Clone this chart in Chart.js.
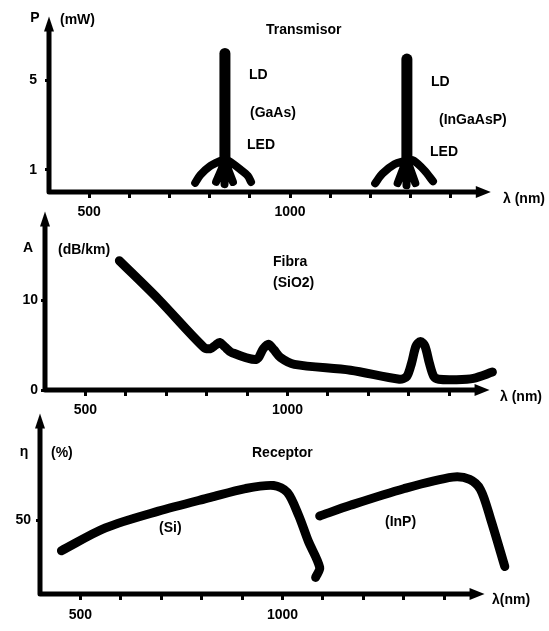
<!DOCTYPE html>
<html>
<head>
<meta charset="utf-8">
<script src="https://cdn.jsdelivr.net/npm/chart.js@4.4.1/dist/chart.umd.min.js"></script>
<style>
  html, body { margin: 0; padding: 0; background: #fff; }
  #wrap { position: relative; width: 549px; height: 631px; overflow: hidden; }
  canvas { position: absolute; left: 0; }
</style>
</head>
<body>
<div id="wrap">
  <canvas id="transmisor" width="549" height="232" style="top:0px"></canvas>
  <canvas id="fibra" width="549" height="230" style="top:200px"></canvas>
  <canvas id="receptor" width="549" height="231" style="top:400px"></canvas>
</div>
<script>
// eje x comun (nm)
const xTicks = [500, 600, 700, 800, 900, 1000, 1100, 1200, 1300, 1400];
const xLabels = [500, 1000];

// Transmisor: P (mW)
const pTicks = [1, 5];
// LD = tronco, LED = raices (null corta el trazo)
const gaasLdNm = [838, 838];
const gaasLdP = [1.3, 6.2];
const gaasLedNm = [836, 825, 799, 777, 764, null, 834, 816, null, 838, 837, null, 842, 858, null, 841, 851, 877, 895, 903];
const gaasLedP  = [1.45, 1.38, 1.13, 0.77, 0.41, null, 1.2, 0.45, null, 1.2, 0.35, null, 1.2, 0.45, null, 1.45, 1.35, 1.0, 0.72, 0.45];
const ingaLdNm = [1291, 1291];
const ingaLdP = [1.3, 5.95];
const ingaLedNm = [1288, 1260, 1230, 1212, null, 1285, 1268, null, 1291, 1290, null, 1296, 1312, null, 1294, 1308, 1334, 1356];
const ingaLedP  = [1.4, 1.24, 0.82, 0.39, null, 1.2, 0.4, null, 1.2, 0.3, null, 1.2, 0.4, null, 1.45, 1.41, 0.98, 0.48];

// Fibra: A (dB/km)
const aTicks = [0, 10];
const fibraNm = [584, 681, 792, 809, 822, 832, 845, 861, 923, 940, 953, 966, 983, 1017, 1156, 1277, 1295, 1307, 1318, 1329, 1340, 1351, 1362, 1374, 1416, 1460, 1507];
const fibraA  = [14.4, 10.1, 4.8, 4.6, 5.0, 5.3, 4.8, 4.2, 3.4, 4.6, 5.1, 4.5, 3.6, 2.85, 2.2, 1.2, 1.5, 3.0, 4.9, 5.4, 4.9, 3.0, 1.5, 1.2, 1.15, 1.3, 2.0];

// Receptor: eta (%)
const etaTicks = [50];
const siNm  = [453, 562, 693, 822, 908, 978, 1012, 1040, 1064, 1092, 1082];
const siEta = [29.5, 45, 56.4, 65.8, 71.8, 73.9, 69.2, 53.5, 35.9, 18.1, 11.3];
const inpNm  = [1092, 1168, 1300, 1421, 1463, 1490, 1515, 1550];
const inpEta = [53.1, 60.4, 71.7, 79.6, 78, 71, 51, 18.7];

const fuente = { family: '"Liberation Sans", Arial, sans-serif', size: 14, weight: 'bold' };

function pts(xs, ys) {
  return xs.map((x, i) => ({ x: x === null ? NaN : x, y: ys[i] }));
}

function linea(xs, ys, ancho, tension) {
  return {
    data: pts(xs, ys),
    borderColor: '#000',
    borderWidth: ancho,
    pointRadius: 0,
    fill: false,
    tension: tension,
    spanGaps: false,
    borderCapStyle: 'round',
    borderJoinStyle: 'round'
  };
}

// ejes con flechas y rotulos
const ejes = {
  id: 'ejes',
  afterDraw(chart, args, o) {
    const { ctx, chartArea: a, scales: { x } } = chart;
    const xEnd = x.getPixelForValue(o.arrowEnd);
    ctx.save();
    ctx.strokeStyle = '#000';
    ctx.fillStyle = '#000';
    ctx.lineWidth = 5;
    ctx.lineCap = 'round';
    ctx.lineJoin = 'round';
    ctx.beginPath();
    ctx.moveTo(a.left, a.top + 10);
    ctx.lineTo(a.left, a.bottom);
    ctx.lineTo(xEnd - 10, a.bottom);
    ctx.stroke();
    ctx.beginPath();
    ctx.moveTo(a.left, a.top);
    ctx.lineTo(a.left - 5, a.top + 15);
    ctx.lineTo(a.left + 5, a.top + 15);
    ctx.closePath();
    ctx.fill();
    ctx.beginPath();
    ctx.moveTo(xEnd, a.bottom);
    ctx.lineTo(xEnd - 15, a.bottom - 6);
    ctx.lineTo(xEnd - 15, a.bottom + 6);
    ctx.closePath();
    ctx.fill();
    ctx.font = 'bold 14px "Liberation Sans", Arial, sans-serif';
    ctx.textBaseline = 'middle';
    o.texts.forEach(t => {
      ctx.textAlign = t.align || 'left';
      ctx.fillText(t.s, t.x, t.y);
    });
    ctx.restore();
  }
};

function opciones(c) {
  return {
    responsive: false,
    animation: false,
    events: [],
    layout: { autoPadding: false, padding: c.padding },
    plugins: {
      legend: { display: false },
      tooltip: { enabled: false },
      ejes: { arrowEnd: 1500, texts: c.texts }
    },
    scales: {
      x: {
        type: 'linear', min: 400, max: 1600,
        afterBuildTicks: s => { s.ticks = xTicks.map(v => ({ value: v })); },
        afterFit: s => { s.height = c.xHeight; },
        border: { display: false },
        grid: { drawOnChartArea: false, drawTicks: true, tickLength: 6, tickWidth: 3, tickColor: '#000' },
        ticks: {
          color: '#000', font: fuente, padding: c.xPad, maxRotation: 0, autoSkip: false,
          callback: v => xLabels.includes(v) ? String(v) : ''
        }
      },
      y: {
        type: 'linear', min: c.yMin, max: c.yMax,
        afterBuildTicks: s => { s.ticks = c.yTicks.map(v => ({ value: v })); },
        afterFit: s => { s.width = 40; },
        border: { display: false },
        grid: { drawOnChartArea: false, drawTicks: true, tickLength: 4, tickWidth: 3, tickColor: '#000' },
        ticks: { color: '#000', font: fuente, padding: c.yPad }
      }
    }
  };
}

new Chart(document.getElementById('transmisor'), {
  type: 'line',
  data: {
    datasets: [
      linea(gaasLdNm, gaasLdP, 11, 0),
      linea(gaasLedNm, gaasLedP, 8, 0.3),
      linea(ingaLdNm, ingaLdP, 11, 0),
      linea(ingaLedNm, ingaLedP, 8, 0.3)
    ]
  },
  options: opciones({
    padding: { top: 8, left: 9, right: 18, bottom: 0 },
    xHeight: 40, xPad: 6, yPad: 8,
    yMin: 0, yMax: 7.86, yTicks: pTicks,
    texts: [
      { s: 'P', x: 35, y: 18, align: 'center' },
      { s: '(mW)', x: 60, y: 20 },
      { s: 'Transmisor', x: 266, y: 30 },
      { s: 'LD', x: 249, y: 75 },
      { s: '(GaAs)', x: 250, y: 113 },
      { s: 'LED', x: 247, y: 145 },
      { s: 'LD', x: 431, y: 82 },
      { s: '(InGaAsP)', x: 439, y: 120 },
      { s: 'LED', x: 430, y: 152 },
      { s: 'λ (nm)', x: 503, y: 199 }
    ]
  }),
  plugins: [ejes]
});

new Chart(document.getElementById('fibra'), {
  type: 'line',
  data: { datasets: [linea(fibraNm, fibraA, 9, 0.3)] },
  options: opciones({
    padding: { top: 7, left: 5, right: 19, bottom: 0 },
    xHeight: 40, xPad: 6, yPad: 3,
    yMin: 0, yMax: 19.9, yTicks: aTicks,
    texts: [
      { s: 'A', x: 28, y: 48, align: 'center' },
      { s: '(dB/km)', x: 58, y: 50 },
      { s: 'Fibra', x: 273, y: 62 },
      { s: '(SiO2)', x: 273, y: 83 },
      { s: 'λ (nm)', x: 500, y: 197 }
    ]
  }),
  plugins: [ejes]
});

new Chart(document.getElementById('receptor'), {
  type: 'line',
  data: {
    datasets: [
      linea(siNm, siEta, 9, 0.3),
      linea(inpNm, inpEta, 9, 0.3)
    ]
  },
  options: opciones({
    padding: { top: 12, left: 0, right: 24, bottom: 0 },
    xHeight: 37, xPad: 7, yPad: 5,
    yMin: 0, yMax: 123, yTicks: etaTicks,
    texts: [
      { s: 'η', x: 24, y: 52, align: 'center' },
      { s: '(%)', x: 51, y: 53 },
      { s: 'Receptor', x: 252, y: 53 },
      { s: '(Si)', x: 159, y: 128 },
      { s: '(InP)', x: 385, y: 122 },
      { s: 'λ(nm)', x: 492, y: 200 }
    ]
  }),
  plugins: [ejes]
});
</script>
</body>
</html>
